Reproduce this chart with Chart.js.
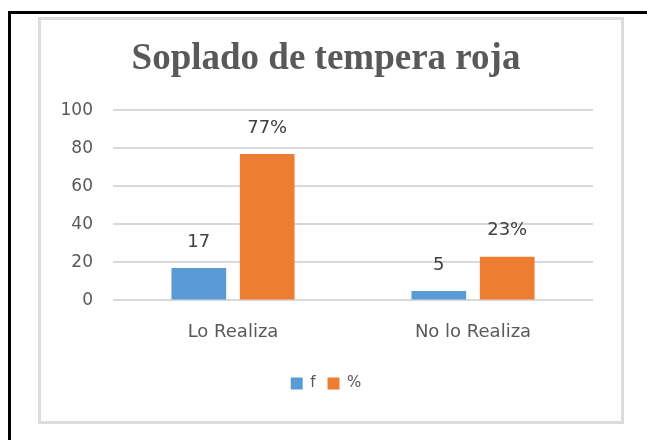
<!DOCTYPE html>
<html>
<head>
<meta charset="utf-8">
<script src="https://cdn.jsdelivr.net/npm/chart.js@4"></script>
<style>
  html, body { margin: 0; padding: 0; background: #fff; }
  #page { position: relative; width: 647px; height: 440px; overflow: hidden; }
  #outer { position: absolute; left: 8px; top: 11px; width: 660px; height: 440px;
           border-left: 3px solid #000; border-top: 3px solid #000; }
  #box { position: absolute; left: 38px; top: 17px; width: 580px; height: 401px;
         border: 3px solid #dcdcdc; background: #fff; }
</style>
</head>
<body>
<div id="page">
  <div id="outer"></div>
  <div id="box"><canvas id="sopladoChart" width="580" height="401"></canvas></div>
</div>
<script>
const categories = ['Lo Realiza', 'No lo Realiza'];
const freqValues = [17, 5];
const pctValues = [77, 23];
const yTicks = [0, 20, 40, 60, 80, 100];

// etiquetas encima de cada barra
const barLabels = {
    id: 'barLabels',
    afterDatasetsDraw(chart) {
        const ctx = chart.ctx;
        ctx.save();
        ctx.font = '18px "DejaVu Sans"';
        ctx.fillStyle = '#404040';
        ctx.textAlign = 'center';
        ctx.textBaseline = 'middle';
        chart.data.datasets.forEach((ds, i) => {
            chart.getDatasetMeta(i).data.forEach((bar, j) => {
                let txt = ds.data[j] + (i === 1 ? '%' : '');
                ctx.fillText(txt, bar.x, bar.y - 26);
            });
        });
        ctx.restore();
    }
};

let myChart = document.getElementById('sopladoChart').getContext('2d');
let sChart = new Chart(myChart, {
    type: 'bar',
    data: {
        labels: categories,
        datasets: [{
            label: 'f',
            data: freqValues,
            backgroundColor: '#5B9BD5',
            barPercentage: 0.8,
            categoryPercentage: 0.57
        }, {
            label: '%',
            data: pctValues,
            backgroundColor: '#ED7D31',
            barPercentage: 0.8,
            categoryPercentage: 0.57
        }]
    },
    options: {
        responsive: false,
        animation: false,
        layout: { padding: { left: 18, right: 28, top: 0, bottom: 20 } },
        plugins: {
            title: {
                display: true,
                text: 'Soplado de tempera roja',
                color: '#595959',
                font: { family: '"Liberation Serif"', size: 37, weight: 'bold' },
                padding: { top: 17, bottom: 29 }
            },
            legend: {
                position: 'bottom',
                labels: {
                    boxWidth: 12,
                    boxHeight: 12,
                    color: '#595959',
                    font: { family: '"DejaVu Sans"', size: 15 },
                    padding: 12
                }
            },
            tooltip: { enabled: false }
        },
        scales: {
            x: {
                grid: { display: false, drawTicks: false },
                border: { display: false },
                ticks: { color: '#595959', font: { family: '"DejaVu Sans"', size: 18 }, padding: 21 }
            },
            y: {
                min: 0,
                max: 100,
                afterBuildTicks: (axis) => { axis.ticks = yTicks.map(v => ({ value: v })); },
                afterFit: (axis) => { axis.width = 54; },
                grid: { color: '#d9d9d9', lineWidth: 2, drawTicks: false },
                border: { display: false },
                ticks: { color: '#595959', font: { family: '"DejaVu Sans"', size: 17 }, padding: 20 }
            }
        }
    },
    plugins: [barLabels]
});
</script>
</body>
</html>
